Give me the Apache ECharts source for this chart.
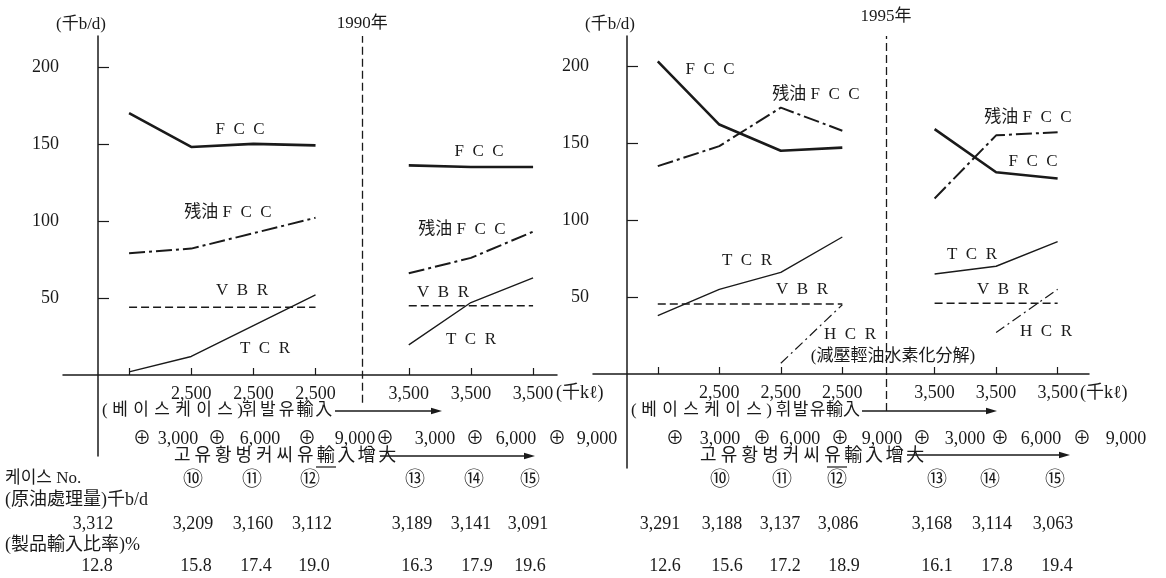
<!DOCTYPE html>
<html>
<head>
<meta charset="utf-8">
<script src="https://cdn.jsdelivr.net/npm/echarts@6/dist/echarts.min.js"></script>
<style>
  html, body { margin: 0; padding: 0; background: #fff; }
  #chart { width: 1166px; height: 578px; }
</style>
</head>
<body>
<div id="chart"></div>
<script>
// slots on each x axis: base case, ⑩ ⑪ ⑫, then ⑬ ⑭ ⑮ after the year line
const caseSlots = [0.5, 1.5, 2.5, 3.5, 5, 6, 7];
const gasolineImport = ['', '2,500', '2,500', '2,500', '3,500', '3,500', '3,500'];
const yTicks = [50, 100, 150, 200];

// 1990, thousand b/d
const fcc1990 = [170, 148, 150, 149, 136, 135, 135];
const resFcc1990 = [79, 82, 92, 102, 66, 76, 93];
const vbr1990 = [44, 44, 44, 44, 45, 45, 45];
const tcr1990 = [2, 12, 32, 52, 19.5, 47, 63];

// 1995, thousand b/d
const fcc1995 = [203, 162, 145, 147, 159, 131, 127];
const resFcc1995 = [135, 148, 173, 158, 114, 155, 157];
const vbr1995 = [45.5, 45.5, 45.5, 45.5, 46, 46, 46];
const tcr1995 = [38, 55, 66, 89, 65, 70, 86];
const hcr1995 = [null, null, 7, 45, null, 27, 55];

// table under the plots
const caseNo = ['⑩', '⑪', '⑫', '⑬', '⑭', '⑮'];
const bunkerImport = ['3,000', '6,000', '9,000', '3,000', '6,000', '9,000'];
const crude1990 = ['3,312', '3,209', '3,160', '3,112', '3,189', '3,141', '3,091'];
const crude1995 = ['3,291', '3,188', '3,137', '3,086', '3,168', '3,114', '3,063'];
const ratio1990 = ['12.8', '15.8', '17.4', '19.0', '16.3', '17.9', '19.6'];
const ratio1995 = ['12.6', '15.6', '17.2', '18.9', '16.1', '17.8', '19.4'];

const INK = '#1a1a1a';
const FONT = "'Liberation Serif', 'Noto Sans CJK JP', serif";
const EN = '\u2002';

const chart = echarts.init(document.getElementById('chart'));

// break the line between the two case groups
function toLine(vals) {
  const out = [];
  vals.forEach((v, i) => {
    if (i === 4) out.push([4.25, '-']);
    out.push([caseSlots[i], v == null ? '-' : v]);
  });
  return out;
}

const styles = {
  fcc: { width: 2.6 },
  res: { width: 2, type: [16, 4, 3, 4] },
  vbr: { width: 1.5, type: [8, 4] },
  tcr: { width: 1.4 },
  hcr: { width: 1.2, type: [10, 4, 2, 4] },
};

function lineSeries(name, vals, panel, style, extra) {
  return Object.assign({
    name,
    type: 'line',
    xAxisIndex: panel,
    yAxisIndex: panel,
    data: toLine(vals),
    symbol: 'none',
    silent: true,
    lineStyle: Object.assign({ color: INK }, style),
  }, extra || {});
}

function yearLine(label, x, y0, y1, dist) {
  return {
    markLine: {
      symbol: 'none',
      silent: true,
      lineStyle: { color: INK, width: 1.3, type: [8, 4] },
      label: { show: true, position: 'end', formatter: label, color: INK, fontFamily: FONT, fontSize: 17, distance: dist },
      data: [[{ coord: [x, y0] }, { coord: [x, y1] }]],
    },
  };
}

// x axis sits on y = 0, lifted from the grid bottom by offset
function xAxis(grid, min, max, offset) {
  return {
    type: 'value', gridIndex: grid, min, max, offset,
    axisLine: { onZero: false, lineStyle: { color: INK, width: 1.5 } },
    axisTick: { customValues: caseSlots, inside: true, length: 7, lineStyle: { color: INK, width: 1.2 } },
    axisLabel: {
      customValues: caseSlots.slice(1), margin: 10, color: INK, fontFamily: FONT, fontSize: 18,
      formatter: v => {
        const i = caseSlots.findIndex(s => Math.abs(s - v) < 1e-6);
        return i >= 0 ? gasolineImport[i] : '';
      },
    },
    splitLine: { show: false },
  };
}

function yAxis(grid, min, max) {
  return {
    type: 'value', gridIndex: grid, min, max,
    axisLine: { show: true, onZero: true, lineStyle: { color: INK, width: 1.5 } },
    axisTick: { customValues: yTicks, inside: true, length: 11, lineStyle: { color: INK, width: 1.2 } },
    axisLabel: { customValues: yTicks, margin: 4, color: INK, fontFamily: FONT, fontSize: 18 },
    splitLine: { show: false },
  };
}

// --- annotation text helpers ---
function txt(x, y, s, size, align) {
  return {
    type: 'text', x, y, silent: true,
    style: { text: s, fill: INK, font: (size || 17) + 'px ' + FONT, textAlign: align || 'center', textVerticalAlign: 'middle' },
  };
}
// fixed-pitch characters, like the typeset original; brackets take less than a step
function pitched(x0, y, s, pitch, size) {
  const out = [];
  let x = x0;
  Array.from(s).forEach(c => {
    const w = (c === '(' || c === ')') ? pitch * 0.45 : pitch;
    out.push(txt(x + w / 2, y, c, size || 16));
    x += w;
  });
  return out;
}
function arrow(x1, x2, y) {
  return [
    { type: 'line', silent: true, shape: { x1, y1: y, x2: x2 - 8, y2: y }, style: { stroke: INK, lineWidth: 1.3 } },
    { type: 'polygon', silent: true, shape: { points: [[x2 - 11, y - 3.2], [x2, y], [x2 - 11, y + 3.2]] }, style: { fill: INK } },
  ];
}
const FCC = ['F', 'C', 'C'].join(EN);
const VBR = ['V', 'B', 'R'].join(EN);
const TCR = ['T', 'C', 'R'].join(EN);
const HCR = ['H', 'C', 'R'].join(EN);
const res = '残油 ' + FCC;

const graphics = [
  // left panel labels
  txt(81, 25, '(千b/d)'),
  txt(240, 130, FCC),
  txt(228, 213, res),
  txt(242, 291, VBR),
  txt(265, 349, TCR),
  txt(479, 152, FCC),
  txt(462, 230, res),
  txt(443, 293, VBR),
  txt(471, 340, TCR),
  txt(556, 393, '(千kℓ)', 18, 'left'),
  // right panel labels
  txt(610, 25, '(千b/d)'),
  txt(710, 70, FCC),
  txt(816, 95, res),
  txt(747, 261, TCR),
  txt(802, 290, VBR),
  txt(850, 335, HCR),
  txt(893, 357, '(減壓輕油水素化分解)', 17),
  txt(1028, 118, res),
  txt(1033, 162, FCC),
  txt(972, 255, TCR),
  txt(1003, 290, VBR),
  txt(1046, 332, HCR),
  txt(1080, 393, '(千kℓ)', 18, 'left'),
  // scenario rows
  ...pitched(100, 411, '(베이스케이스)', 21, 17),
  ...pitched(240, 411, '휘발유輸入', 18.6, 17),
  ...arrow(335, 442, 411),
  ...pitched(629, 411, '(베이스케이스)', 21, 17),
  ...pitched(775, 411, '휘발유輸入', 17, 17),
  ...arrow(862, 997, 411),
  ...pitched(172, 456, '고유황벙커씨유輸入增大', 20.5, 18),
  ...arrow(380, 535, 456),
  ...pitched(698, 456, '고유황벙커씨유輸入增大', 20.7, 18),
  ...arrow(907, 1070, 455),
  { type: 'line', silent: true, shape: { x1: 316, y1: 467, x2: 336, y2: 467 }, style: { stroke: INK, lineWidth: 1.2 } },
  { type: 'line', silent: true, shape: { x1: 827, y1: 467, x2: 847, y2: 467 }, style: { stroke: INK, lineWidth: 1.2 } },
  // table row titles
  txt(5, 479, '케이스 No.', 17, 'left'),
  txt(5, 500, '(原油處理量)千b/d', 18, 'left'),
  txt(5, 545, '(製品輸入比率)%', 18, 'left'),
];

const plusL = [142, 217, 307, 385, 475, 557];
const numL = [178, 260, 355, 435, 516, 597];
const plusR = [675, 762, 840, 922, 1000, 1082];
const numR = [720, 800, 882, 965, 1041, 1126];
bunkerImport.forEach((s, i) => {
  graphics.push(txt(plusL[i], 439, '⊕', 18), txt(numL[i], 439, s, 18));
  graphics.push(txt(plusR[i], 439, '⊕', 18), txt(numR[i], 439, s, 18));
});

const caseL = [193, 252, 310, 415, 474, 530];
const caseR = [720, 782, 837, 937, 990, 1055];
caseNo.forEach((s, i) => {
  graphics.push(txt(caseL[i], 481, s, 20), txt(caseR[i], 481, s, 20));
});

const crudeL = [93, 193, 253, 312, 412, 471, 528];
const crudeR = [660, 722, 780, 838, 932, 992, 1053];
const ratioL = [97, 196, 256, 314, 417, 477, 530];
const ratioR = [665, 727, 785, 844, 937, 997, 1057];
crude1990.forEach((s, i) => graphics.push(txt(crudeL[i], 524, s, 18)));
crude1995.forEach((s, i) => graphics.push(txt(crudeR[i], 524, s, 18)));
ratio1990.forEach((s, i) => graphics.push(txt(ratioL[i], 566, s, 18)));
ratio1995.forEach((s, i) => graphics.push(txt(ratioR[i], 566, s, 18)));

chart.setOption({
  animation: false,
  backgroundColor: '#fff',
  grid: [
    { left: 63, top: 36, width: 494, height: 420 },
    { left: 593, top: 36, width: 496, height: 432 },
  ],
  xAxis: [xAxis(0, -0.563, 7.385, -81), xAxis(1, -0.553, 7.51, -94)],
  yAxis: [yAxis(0, -52.6, 220), yAxis(1, -61, 219.5)],
  series: [
    lineSeries('FCC', fcc1990, 0, styles.fcc, yearLine('1990年', 4.25, -18, 220, 4)),
    lineSeries('残油FCC', resFcc1990, 0, styles.res),
    lineSeries('VBR', vbr1990, 0, styles.vbr),
    lineSeries('TCR', tcr1990, 0, styles.tcr),
    lineSeries('FCC', fcc1995, 1, styles.fcc, yearLine('1995年', 4.21, -24, 219.5, 11)),
    lineSeries('残油FCC', resFcc1995, 1, styles.res),
    lineSeries('VBR', vbr1995, 1, styles.vbr),
    lineSeries('TCR', tcr1995, 1, styles.tcr),
    lineSeries('HCR', hcr1995, 1, styles.hcr),
  ],
  graphic: graphics,
});

window.addEventListener('resize', () => chart.resize());
</script>
</body>
</html>
